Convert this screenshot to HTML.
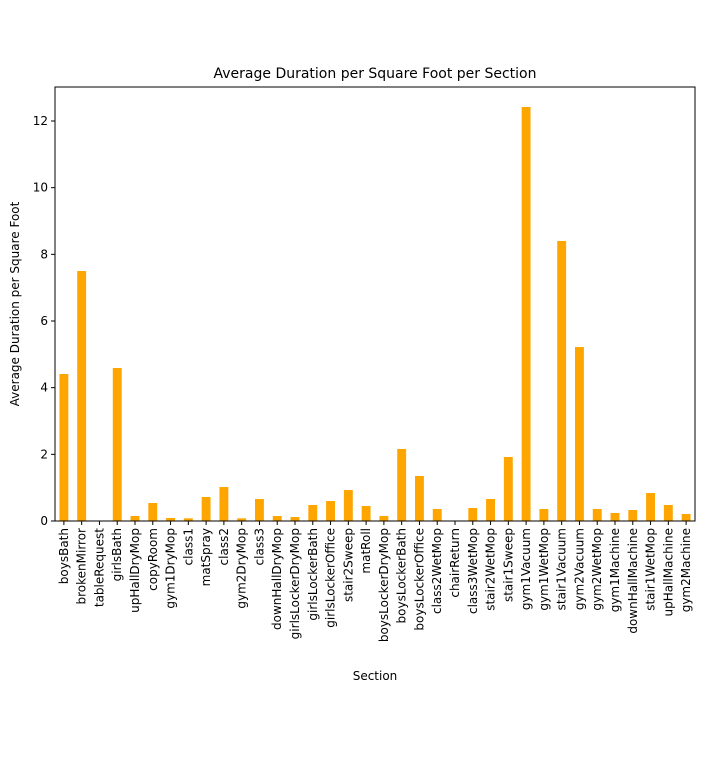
<!DOCTYPE html>
<html><head><meta charset="utf-8"><style>
body{margin:0;background:#fff;}
text{font-family:"DejaVu Sans","Liberation Sans",sans-serif;fill:#000;}
</style></head><body>
<svg width="708" height="771" id="chart">
<text x="375" y="78" font-size="14" text-anchor="middle">Average Duration per Square Foot per Section</text>
<text transform="translate(19,304) rotate(-90)" font-size="12" text-anchor="middle">Average Duration per Square Foot</text>
<text x="375" y="680" font-size="12" text-anchor="middle">Section</text>
<g id="bars"></g><g id="ticks"></g>
<rect x="55" y="87" width="640" height="434" fill="none" stroke="#000" stroke-width="1"/>
</svg>
<script>
const categories=["boysBath","brokenMirror","tableRequest","girlsBath","upHallDryMop","copyRoom","gym1DryMop","class1","matSpray","class2","gym2DryMop","class3","downHallDryMop","girlsLockerDryMop","girlsLockerBath","girlsLockerOffice","stair2Sweep","matRoll","boysLockerDryMop","boysLockerBath","boysLockerOffice","class2WetMop","chairReturn","class3WetMop","stair2WetMop","stair1Sweep","gym1Vacuum","gym1WetMop","stair1Vacuum","gym2Vacuum","gym2WetMop","gym1Machine","downHallMachine","stair1WetMop","upHallMachine","gym2Machine"];
const values=[4.41,7.5,0,4.59,0.15,0.54,0.09,0.08,0.72,1.02,0.08,0.66,0.15,0.12,0.48,0.6,0.93,0.45,0.15,2.16,1.35,0.36,0,0.39,0.66,1.92,12.42,0.36,8.4,5.22,0.36,0.24,0.33,0.84,0.48,0.21];
const yTicks=[0,2,4,6,8,10,12];
const NS="http://www.w3.org/2000/svg";
const x0=55,x1=695,yb=521,yt=87,ymax=13.02;
const n=categories.length,step=(x1-x0)/n;
const X=i=>x0+step*(i+0.5);
const Y=v=>yb-(v/ymax)*(yb-yt);
const bars=document.getElementById('bars'),ticks=document.getElementById('ticks');
function mk(t,a){const e=document.createElementNS(NS,t);for(const k in a)e.setAttribute(k,a[k]);return e;}
values.forEach((v,i)=>{
 const r=mk('rect',{x:X(i)-step/4,y:Y(v),width:step/2,height:yb-Y(v),fill:'#ffa500'});
 
 
 bars.appendChild(r);
 const tk=mk('line',{x1:X(i),x2:X(i),y1:yb,y2:yb+4,stroke:'#000'});
 
 
 ticks.appendChild(tk);
 const t=mk('text',{transform:`translate(${X(i)+4},${yb+7}) rotate(-90)`,'font-size':12,'text-anchor':'end'});
 t.textContent=categories[i];
 
 
 ticks.appendChild(t);
});
yTicks.forEach(v=>{
 const tk=mk('line',{x1:x0-4,x2:x0,y1:Y(v),y2:Y(v),stroke:'#000'});
 
 
 ticks.appendChild(tk);
 const t=mk('text',{x:x0-7,y:Y(v)+4,'font-size':12,'text-anchor':'end'});
 t.textContent=v;
 
 
 ticks.appendChild(t);
});
</script>
</body></html>
